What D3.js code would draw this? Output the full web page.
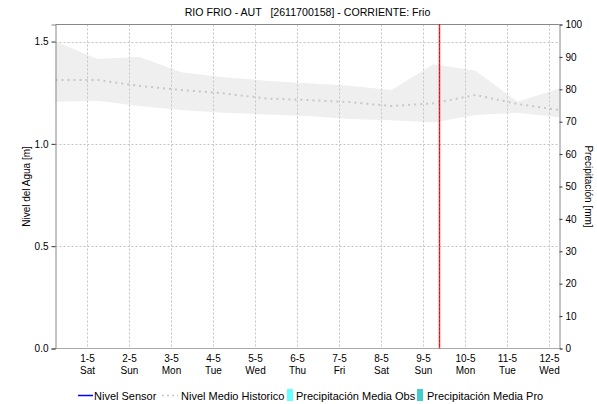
<!DOCTYPE html>
<html><head><meta charset="utf-8">
<script src="https://cdn.jsdelivr.net/npm/d3@7"></script>
<style>
body{margin:0;background:#fff}
svg{display:block}
text{font-family:"Liberation Sans",Arial,Helvetica,sans-serif;fill:#000}
</style>
</head><body>
<svg id="chart" width="597" height="404"></svg>
<script>
// ---------- data ----------
const chartTitle = "RIO FRIO - AUT   [2611700158] - CORRIENTE: Frio";
const times = ["2021-04-30T06:00","2021-05-01T06:00","2021-05-02T06:00","2021-05-03T06:00",
  "2021-05-04T06:00","2021-05-05T06:00","2021-05-06T06:00","2021-05-07T06:00",
  "2021-05-08T06:00","2021-05-09T06:00","2021-05-10T06:00","2021-05-11T06:00","2021-05-12T06:00"];
const histUpper  = [1.50,1.415,1.425,1.35,1.326,1.309,1.296,1.284,1.263,1.389,1.357,1.206,1.271];
const histMedian = [1.312,1.312,1.283,1.263,1.247,1.222,1.214,1.204,1.185,1.198,1.239,1.195,1.165];
const histLower  = [1.206,1.211,1.185,1.165,1.152,1.144,1.136,1.121,1.116,1.104,1.141,1.152,1.130];
const sensorLevel = [];   // Nivel Sensor (no data shown)
const precipObs = [];     // Precipitación Media Obs (no data shown)
const precipPro = [];     // Precipitación Media Pro (no data shown)
const dayTicks = ["2021-05-01","2021-05-02","2021-05-03","2021-05-04","2021-05-05","2021-05-06",
  "2021-05-07","2021-05-08","2021-05-09","2021-05-10","2021-05-11","2021-05-12"];
const dayNames = ["Sat","Sun","Mon","Tue","Wed","Thu","Fri","Sat","Sun","Mon","Tue","Wed"];
const nowTime = "2021-05-09T09:00";
const levelTicks = [0, 0.5, 1.0, 1.5];
const precipTicks = [0,10,20,30,40,50,60,70,80,90,100];
const legendLabels = ["Nivel Sensor","Nivel Medio Historico","Precipitación Media Obs","Precipitación Media Pro"];

// ---------- layout ----------
const parseT = d3.timeParse("%Y-%m-%dT%H:%M");
const parseD = d3.timeParse("%Y-%m-%d");
const T = times.map(parseT);
const L = 55.5, R = 559.5, TOP = 24.5, BOT = 348.5;

const svg = d3.select("#chart");
const x = d3.scaleTime().domain([T[0], T[T.length-1]]).range([L, R]);
const yL = d3.scaleLinear().domain([0, 1.5833]).range([BOT, TOP]);
const yR = d3.scaleLinear().domain([0, 100]).range([BOT, TOP]);

const pts = T.map((t,i)=>({t, hi:histUpper[i], lo:histLower[i], med:histMedian[i]}));

// band
svg.append("path").datum(pts)
  .attr("d", d3.area().x(d=>x(d.t)).y0(d=>yL(d.lo)).y1(d=>yL(d.hi)))
  .attr("fill","#efefef");

// grid
const grid = svg.append("g");
dayTicks.map(parseD).forEach(d=>{
  grid.append("line").attr("x1",Math.round(x(d))+0.5).attr("x2",Math.round(x(d))+0.5)
    .attr("y1",TOP).attr("y2",BOT)
    .attr("stroke","#c4c4c4").attr("stroke-dasharray","2,2");
});
levelTicks.filter(v=>v>0).forEach(v=>{
  const yy = Math.round(yL(v))+0.5;
  grid.append("line").attr("x1",L).attr("x2",R).attr("y1",yy).attr("y2",yy)
    .attr("stroke","#c4c4c4").attr("stroke-dasharray","2,2");
});

// median dotted
svg.append("path").datum(pts)
  .attr("d", d3.line().x(d=>x(d.t)).y(d=>yL(d.med)))
  .attr("fill","none").attr("stroke","#c8c8c8").attr("stroke-width",2)
  .attr("stroke-dasharray","2,4");

// sensor line (empty)
svg.append("path").datum(sensorLevel)
  .attr("d", d3.line().x(d=>x(parseT(d.t))).y(d=>yL(d.v)))
  .attr("fill","none").attr("stroke","#0000ff");

// frame
svg.append("line").attr("x1",L).attr("x2",R).attr("y1",TOP).attr("y2",TOP).attr("stroke","#888");
svg.append("line").attr("x1",L).attr("x2",R).attr("y1",BOT).attr("y2",BOT)
  .attr("stroke","#555").attr("stroke-dasharray","1,1");

// now line
const nx = Math.round(x(parseT(nowTime)))+0.5;
svg.append("line").attr("x1",nx).attr("x2",nx).attr("y1",TOP).attr("y2",BOT)
  .attr("stroke","#ff2a2a").attr("stroke-width",1.5);
svg.append("line").attr("x1",nx).attr("x2",nx).attr("y1",TOP).attr("y2",BOT)
  .attr("stroke","#a00000").attr("stroke-width",1).attr("stroke-dasharray","1,3");

// left axis
const gL = svg.append("g").attr("transform",`translate(${L},0)`)
  .call(d3.axisLeft(yL).tickValues(levelTicks).tickFormat(d3.format(".1f")).tickSize(4).tickPadding(3));
gL.select(".domain").attr("stroke","#888");
gL.selectAll(".tick line").attr("stroke","#333");
gL.selectAll("text").attr("font-size",10);
gL.attr("font-family",null);

// right axis
const gR = svg.append("g").attr("transform",`translate(${R},0)`)
  .call(d3.axisRight(yR).tickValues(precipTicks).tickSize(3).tickPadding(3));
gR.select(".domain").attr("stroke","#888");
gR.selectAll(".tick line").attr("stroke","#333");
gR.selectAll("text").attr("font-size",10);
gR.attr("font-family",null);

// bottom axis
const gB = svg.append("g").attr("transform",`translate(0,${BOT})`)
  .call(d3.axisBottom(x).tickValues(dayTicks.map(parseD)).tickSize(0).tickFormat(""));
gB.select(".domain").remove();
gB.attr("font-family",null);
gB.selectAll(".tick").each(function(d,i){
  const t = d3.select(this).select("text").attr("font-size",10).attr("y",0).attr("dy",null);
  t.append("tspan").attr("x",0).attr("y",13).text(d3.timeFormat("%-d-%-m")(d));
  t.append("tspan").attr("x",0).attr("y",25).text(dayNames[i]);
});

// title
svg.append("text").attr("x",(L+R)/2).attr("y",16).attr("text-anchor","middle")
  .attr("font-size",10.6).style("white-space","pre").text(chartTitle);

// axis labels
svg.append("text").attr("transform",`translate(30,${(TOP+BOT)/2}) rotate(-90)`)
  .attr("text-anchor","middle").attr("font-size",10).text("Nivel del Agua [m]");
svg.append("text").attr("transform",`translate(585,${(TOP+BOT)/2}) rotate(90)`)
  .attr("text-anchor","middle").attr("font-size",10).text("Precipitación [mm]");

// legend
const lg = svg.append("g").attr("font-size",11);
const ly = 395.5;
lg.append("line").attr("x1",78).attr("x2",93).attr("y1",ly).attr("y2",ly).attr("stroke","#0000ff").attr("stroke-width",1.5);
lg.append("text").attr("x",94).attr("y",ly+4).text(legendLabels[0]);
lg.append("line").attr("x1",162).attr("x2",178).attr("y1",ly).attr("y2",ly).attr("stroke","#c8c8c8").attr("stroke-width",1.5).attr("stroke-dasharray","2,3");
lg.append("text").attr("x",181).attr("y",ly+4).text(legendLabels[1]);
lg.append("rect").attr("x",287).attr("y",389).attr("width",6).attr("height",12).attr("fill","#66ffff");
lg.append("text").attr("x",296).attr("y",ly+4).text(legendLabels[2]);
lg.append("rect").attr("x",417).attr("y",389).attr("width",6).attr("height",12).attr("fill","#44cccc");
lg.append("text").attr("x",427).attr("y",ly+4).text(legendLabels[3]);
</script>
</body></html>
